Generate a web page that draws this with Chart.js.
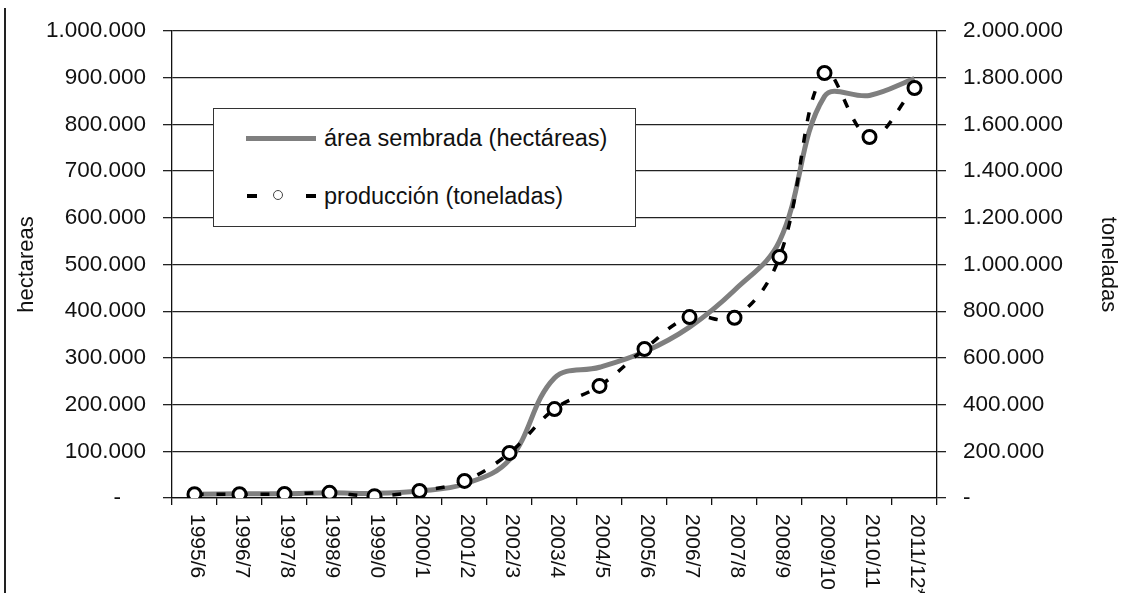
<!DOCTYPE html>
<html>
<head>
<meta charset="utf-8">
<script src="https://cdn.jsdelivr.net/npm/chart.js@4/dist/chart.umd.min.js"></script>
<style>
  html, body { margin: 0; padding: 0; background: #fff; }
  #wrap { position: relative; width: 1122px; height: 593px; overflow: hidden; }
  #c { position: absolute; left: 0; top: 0; }
  #edge { position: absolute; left: 4px; top: 8px; width: 2px; height: 585px; background: #222; }
  #legend { position: absolute; left: 213px; top: 108px; width: 421px; height: 117px;
    border: 1.5px solid #333; background: #fff; font-family: "Liberation Sans", Arial, sans-serif;
    font-size: 23.5px; color: #111; }
  .item { position: absolute; left: 0; height: 26px; line-height: 26px; }
  .item .txt { position: absolute; left: 110px; top: 0; white-space: nowrap; }
  .lineSample { position: absolute; left: 32px; top: 11px; width: 70px; height: 5px; background: #7f7f7f; }
  .dash { position: absolute; top: 11px; width: 10px; height: 4px; background: #000; }
  .dot { position: absolute; top: 7px; left: 59px; width: 8px; height: 8px; border-radius: 50%;
    border: 1.5px solid #444; background: #fff; }
</style>
</head>
<body>
<div id="wrap">
  <canvas id="c" width="1122" height="593"></canvas>
  <div id="edge"></div>
  <div id="legend">
    <div class="item" style="top:16px;width:410px;">
      <div class="lineSample"></div>
      <span class="txt" id="lg0"></span>
    </div>
    <div class="item" style="top:74px;width:410px;">
      <div class="dash" style="left:33px;"></div>
      <div class="dot"></div>
      <div class="dash" style="left:92px;"></div>
      <span class="txt" id="lg1"></span>
    </div>
  </div>
</div>
<script>
const categories = ['1995/6','1996/7','1997/8','1998/9','1999/0','2000/1','2001/2','2002/3','2003/4','2004/5','2005/6','2006/7','2007/8','2008/9','2009/10','2010/11','2011/12*'];
const areaSembrada = [8000, 9000, 9000, 11000, 10000, 15000, 30000, 82000, 257000, 280000, 313000, 366000, 445000, 550000, 860000, 862000, 898000];
const produccion = [16000, 16000, 17000, 22000, 8000, 30000, 73000, 193000, 381000, 480000, 638000, 775000, 772000, 1032000, 1820000, 1546000, 1756000];
const areaLabel = 'área sembrada (hectáreas)';
const prodLabel = 'producción (toneladas)';
const leftAxisTitle = 'hectareas';
const rightAxisTitle = 'toneladas';

document.getElementById('lg0').textContent = areaLabel;
document.getElementById('lg1').textContent = prodLabel;

const FONT = '"Liberation Sans", Arial, sans-serif';
function fmt(v) { return String(v).replace(/\B(?=(\d{3})+(?!\d))/g, '.'); }

const rotatedXLabels = {
  id: 'rotatedXLabels',
  afterDraw(chart) {
    const xs = chart.scales.x;
    const ctx = chart.ctx;
    ctx.save();
    ctx.font = '21px ' + FONT;
    ctx.fillStyle = '#111';
    ctx.textAlign = 'left';
    ctx.textBaseline = 'middle';
    xs.ticks.forEach((t, i) => {
      const x = xs.getPixelForTick(i);
      ctx.save();
      ctx.translate(x + 2, xs.top + 16);
      ctx.rotate(Math.PI / 2);
      ctx.fillText(xs.getLabelForValue(t.value), 0, 0);
      ctx.restore();
    });
    ctx.restore();
  }
};

new Chart(document.getElementById('c'), {
  type: 'line',
  data: {
    labels: categories,
    datasets: [
      {
        label: prodLabel,
        data: produccion,
        yAxisID: 'y1',
        order: 0,
        borderColor: '#000',
        borderWidth: 3.5,
        borderDash: [9, 13],
        tension: 0.38,
        pointRadius: 6.5,
        pointBackgroundColor: '#fff',
        pointBorderColor: '#000',
        pointBorderWidth: 3,
        fill: false
      },
      {
        label: areaLabel,
        data: areaSembrada,
        yAxisID: 'y',
        order: 1,
        borderColor: '#7f7f7f',
        borderWidth: 5,
        tension: 0.38,
        pointRadius: 0,
        fill: false
      }
    ]
  },
  options: {
    responsive: false,
    animation: false,
    devicePixelRatio: 1,
    layout: { padding: { top: 31, left: 0, right: 0, bottom: 0 } },
    plugins: { legend: { display: false }, tooltip: { enabled: false } },
    scales: {
      x: {
        offset: true,
        grid: { offset: true, drawOnChartArea: false, drawTicks: true, tickLength: 7, color: '#111', lineWidth: 1.3 },
        border: { display: true, color: '#111', width: 1.3 },
        ticks: { display: false },
        afterFit(s) { s.height = 95; }
      },
      y: {
        position: 'left',
        min: 0, max: 1000000,
        ticks: {
          stepSize: 100000, padding: 17, color: '#111',
          font: { family: FONT, size: 22.5 },
          callback: v => v === 0 ? '-    ' : fmt(v)
        },
        grid: { color: '#222', lineWidth: 1.3, tickLength: 9 },
        border: { display: true, color: '#111', width: 1.3 },
        title: { display: true, text: leftAxisTitle, color: '#111', font: { family: FONT, size: 22 }, padding: { top: 14, bottom: 0 } },
        afterFit(s) { s.width = 172; }
      },
      y1: {
        position: 'right',
        min: 0, max: 2000000,
        ticks: {
          stepSize: 200000, padding: 17, color: '#111',
          font: { family: FONT, size: 22.5 },
          callback: v => v === 0 ? '-' : fmt(v)
        },
        grid: { drawOnChartArea: false, color: '#222', lineWidth: 1.3, tickLength: 9 },
        border: { display: true, color: '#111', width: 1.3 },
        title: { display: true, text: rightAxisTitle, color: '#111', font: { family: FONT, size: 22 }, padding: { top: 1, bottom: 0 } },
        afterFit(s) { s.width = 185; }
      }
    }
  },
  plugins: [rotatedXLabels]
});
</script>
</body>
</html>
